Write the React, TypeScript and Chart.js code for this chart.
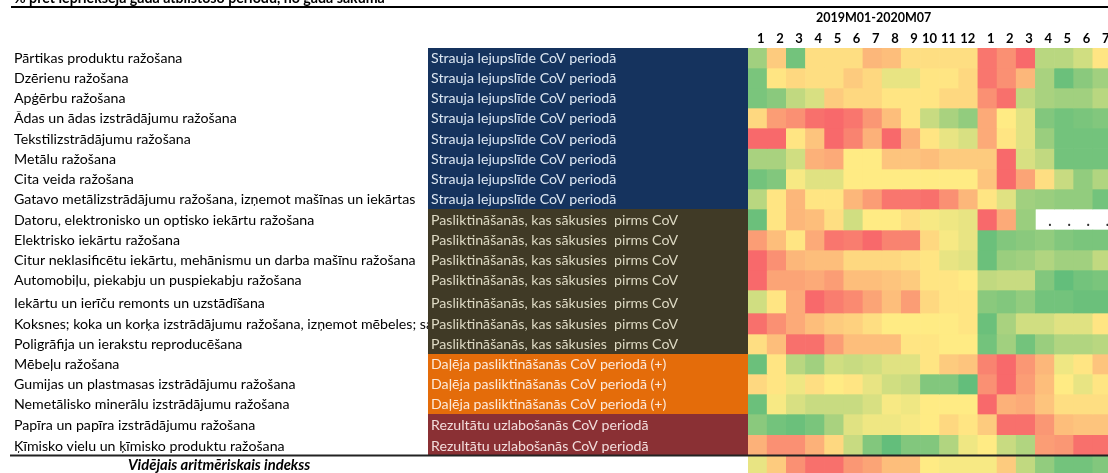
import React, { useEffect, useRef } from "react";
import { Chart, registerables } from "chart.js";

Chart.register(...registerables);

const title = "% pret iepriekšējā gada atbilstošo periodu, no gada sākuma";
const periodLabel = "2019M01-2020M07";
const averageLabel = "Vidējais aritmēriskais indekss";
const months = ["1", "2", "3", "4", "5", "6", "7", "8", "9", "10", "11", "12", "1 ", "2 ", "3 ", "4 ", "5 ", "6 ", "7 "];

const rowNames = [
  "Pārtikas produktu ražošana",
  "Dzērienu ražošana",
  "Apģērbu ražošana",
  "Ādas un ādas izstrādājumu ražošana",
  "Tekstilizstrādājumu ražošana",
  "Metālu ražošana",
  "Cita veida ražošana",
  "Gatavo metālizstrādājumu ražošana, izņemot mašīnas un iekārtas",
  "Datoru, elektronisko un optisko iekārtu ražošana",
  "Elektrisko iekārtu ražošana",
  "Citur neklasificētu iekārtu, mehānismu un darba mašīnu ražošana",
  "Automobiļu, piekabju un puspiekabju ražošana",
  "Iekārtu un ierīču remonts un uzstādīšana",
  "Koksnes; koka un korķa izstrādājumu ražošana, izņemot mēbeles; salmu",
  "Poligrāfija un ierakstu reproducēšana",
  "Mēbeļu ražošana",
  "Gumijas un plastmasas izstrādājumu ražošana",
  "Nemetālisko minerālu izstrādājumu ražošana",
  "Papīra un papīra izstrādājumu ražošana",
  "Ķīmisko vielu un ķīmisko produktu ražošana",
];

const groupNames = [
  "Strauja lejupslīde CoV periodā",
  "Pasliktināšanās, kas sākusies  pirms CoV",
  "Daļēja pasliktināšanās CoV periodā (+)",
  "Rezultātu uzlabošanās CoV periodā",
];
const rowGroups = [0, 0, 0, 0, 0, 0, 0, 0, 1, 1, 1, 1, 1, 1, 1, 2, 2, 2, 3, 3];

const food = [6, -2.5, 9, -1, -1, -1, -4, -3.5, -1, -1, -1, -1, -9, -7, -10, 4.5, 4.5, 3, -0.5];
const drinks = [8.5, -0.5, -1.5, -1, -1, -2.5, -1.5, 1.5, 1.5, -0.5, -0.5, -1.5, -9, -7, -4, 5.5, 9.5, 7.5, 6];
const clothing = [8.5, 7.5, 4, 2.5, -2.5, -1.5, -1.5, -0.5, -0.5, -0.5, -1.5, -1.5, -7, -9.5, 4, 5.5, 6, 6, 4.5];
const leather = [-1.5, -6, -7, -9.5, -10, -9, -6.5, -3.5, -0.5, 3.5, 5.5, 7, -5, 0, 2, 8, 9, 8.5, 8];
const textiles = [-10, -10, -0.5, -3, -10, -8, -4.5, -10, -4.5, -0.5, 1.5, 2.5, -5, -0.5, 2, 6.5, 9, 9, 9];
const metals = [5.5, 5.5, 3, -4.5, -5, 0, 0, -3, -3, -3.5, -2.5, -2.5, -2.5, -10, 2.5, 4, 9, 9, 9];
const otherMfg = [9, 8, 0.5, 2, 2, 0, 0, 0, 0, 0, 0, 0, -3, -10, -5.5, -1, 3.5, 7, 5];
const metalProducts = [4.5, -0.5, -4, -0.5, -0.5, -4, -6, -9, -9, -9.5, -7, -4, -0.5, 2, 6, 6.5, 7, 7, 9];
const computers = [9.5, -0.5, -4, -3.5, -1, 3, 0, 0, -1, 0.5, 1, 1.5, -10, -5, 6.5, null, null, null, null];
const electrical = [-6, -3.5, -0.5, -5, -9, -8.5, -10, -8, -8, -1.5, 0.5, 1.5, 9.5, 8, 7.5, 7, 8, 8.5, 8.5];
const machinery = [-10, -7, -4, -3.5, -3.5, -1.5, -1.5, -1.5, -1, -0.5, 1.5, 2, 9.5, 6.5, 6, 5, 6, 6, 4];
const vehicles = [-10, -5.5, -5.5, -5, -6, -3.5, -3.5, -3, -2.5, -0.5, -0.5, 0, 4, 3.5, 3.5, 8, 10, 9, 8.5];
const repair = [3, -0.5, -5, -10, -8.5, -7.5, -5.5, -3.5, -6, -1.5, -0.5, -0.5, 7.5, 8, 7, 9, 9, 9.5, 9.5];
const wood = [-9.5, -7, -5, -3.5, -2.5, -2, -1, 0, 0, 0, 0, -0.5, 9.5, 5.5, 3, 3, 2, 2, -0.5];
const printing = [-1, -3.5, -9.5, -9.5, -6, -3.5, -3.5, -3.5, -0.5, -0.5, 0, 0, 9, 6, 9, 6.5, 5, 5, 4.5];
const furniture = [9.5, -0.5, 4.5, 6, 3, 3.5, 3, 2, 2, -0.5, -2.5, -3, -8, -10, -6.5, -4, 1, -0.5, -3];
const rubber = [-1.5, -0.5, 1, -1, 0, -0.5, 1.5, 3, 3.5, 8, 8, 10, -7, -10, -6, -3.5, 0, 1.5, -0.5];
const minerals = [9.5, 0.5, 2.5, 3.5, 3.5, 3.5, 2.5, 0.5, 1, 0, 0, 0, -10, -4.5, -5, -3, -1, -1, -1];
const paper = [7.5, 9, 9.5, 8.5, 5.5, 2, 1, 1, 0.5, 0, -1.5, -0.5, -2.5, -9.5, -9.5, -6.5, -3.5, -3, -3];
const chemicals = [-4.5, -7, -7, -4.5, -1.5, 3.5, 8, 10, 8, 8, 5, 1, 0, 3.5, 5, -6, -6.5, -9.5, -9.5];
const average = [1.5, -2.5, -7, -9.5, -9.5, -6.5, -5.5, -3.5, -3.5, 0, 0.5, 0.5, 0.5, -2.5, 4, 7, 9, 9, 8];

const matrix = [
  food, drinks, clothing, leather, textiles, metals, otherMfg, metalProducts, computers, electrical,
  machinery, vehicles, repair, wood, printing, furniture, rubber, minerals, paper, chemicals, average,
];

// Layout: row boundaries on the y scale (row heights differ slightly in the source sheet).
const ROW_EDGES = [0, 20, 40, 60, 80, 100.5, 121, 141, 161, 182, 202, 222, 242, 265, 286, 306, 326, 346, 366, 386.7, 407.5, 425];
const FONT = "Lato, 'Open Sans', sans-serif";
const FONT_SIZE = 14.2;
const TEXT_RISE = 9.5;
const BAND_LEFT = 428;
const BAND_RIGHT = 748;
const BAND_COLORS = ["#15335e", "#403a26", "#e46c0a", "#8a3034"];
const BAND_TEXT = ["#dce6f1", "#ddd9c3", "#fde9d9", "#f2dcdb"];

const RED = [248, 105, 107];
const YELLOW = [255, 235, 132];
const GREEN = [99, 190, 123];

function cellColor(v: number | null): string {
  if (v === null) return "rgba(0,0,0,0)";
  const t = Math.min(1, Math.abs(v) / 10);
  const end = v < 0 ? RED : GREEN;
  const c = YELLOW.map((y, i) => Math.round(y + (end[i] - y) * t));
  return `rgb(${c[0]},${c[1]},${c[2]})`;
}

const sheetPlugin = {
  id: "sheet",
  beforeDatasetsDraw(chart: any) {
    const { ctx, scales } = chart;
    const y = scales.y;
    ctx.save();
    // Group bands cover any overflow of the row names.
    rowGroups.forEach((g, r) => {
      const top = Math.round(y.getPixelForValue(ROW_EDGES[r]));
      const bottom = Math.round(y.getPixelForValue(ROW_EDGES[r + 1]));
      ctx.fillStyle = BAND_COLORS[g];
      ctx.fillRect(BAND_LEFT, top, BAND_RIGHT - BAND_LEFT, bottom - top);
    });
    ctx.font = `${FONT_SIZE}px ${FONT}`;
    ctx.textAlign = "left";
    ctx.textBaseline = "middle";
    rowGroups.forEach((g, r) => {
      ctx.fillStyle = BAND_TEXT[g];
      ctx.fillText(groupNames[g], BAND_LEFT + 3, y.getPixelForValue(ROW_EDGES[r + 1] - TEXT_RISE));
    });
    ctx.restore();
  },
  afterDatasetsDraw(chart: any) {
    const { ctx, scales, width } = chart;
    const { x, y } = scales;
    ctx.save();
    ctx.fillStyle = "#000";
    ctx.textBaseline = "alphabetic";
    ctx.textAlign = "left";
    ctx.font = `bold ${FONT_SIZE}px ${FONT}`;
    ctx.fillText(title, 14, 3);
    ctx.textBaseline = "middle";
    ctx.font = `bold 12.5px ${FONT}`;
    ctx.fillText(periodLabel, 816, 18);
    ctx.font = `italic bold 14.8px ${FONT}`;
    ctx.fillText(averageLabel, 128, 465);

    ctx.fillStyle = "#000";
    ctx.fillRect(11, 6, width - 11, 2);
    ctx.fillStyle = "#222";
    ctx.fillRect(10, y.getPixelForValue(ROW_EDGES[20]) - 1, width - 10, 2);

    // Missing values are shown as dots.
    ctx.fillStyle = "#333";
    ctx.font = `bold ${FONT_SIZE}px ${FONT}`;
    ctx.textAlign = "center";
    matrix.forEach((row, r) => {
      row.forEach((v, c) => {
        if (v === null) {
          ctx.fillText(".", x.getPixelForValue(c) + 5, y.getPixelForValue(ROW_EDGES[r + 1] - 9));
        }
      });
    });
    ctx.restore();
  },
};

export default function App() {
  const ref = useRef<HTMLCanvasElement>(null);
  useEffect(() => {
    const chart = new Chart(ref.current!, {
      type: "bar",
      data: {
        labels: months,
        datasets: matrix.map((row, r) => ({
          label: r < rowNames.length ? rowNames[r] : averageLabel,
          data: row.map((v) => (v === null ? null : [ROW_EDGES[r], ROW_EDGES[r + 1]])) as any,
          backgroundColor: row.map(cellColor),
          borderWidth: 0,
          grouped: false,
          barPercentage: 1,
          categoryPercentage: 1,
        })),
      },
      options: {
        animation: false,
        responsive: false,
        layout: { padding: { left: 14, top: 0, right: 0, bottom: 0 } },
        plugins: { legend: { display: false }, tooltip: { enabled: false }, title: { display: false } },
        scales: {
          x: {
            type: "category",
            position: "top",
            offset: true,
            grid: { display: false, drawTicks: false },
            border: { display: false },
            ticks: {
              autoSkip: false,
              maxRotation: 0,
              align: "end",
              labelOffset: 7,
              padding: 1,
              color: "#000",
              font: { family: FONT, size: 13, weight: "bold" },
              callback: (_v: any, i: number) => months[i].trim(),
            },
            afterFit: (s: any) => {
              s.height = 48;
              s.paddingLeft = 0;
              s.paddingRight = 0;
            },
          },
          y: {
            type: "linear",
            reverse: true,
            min: ROW_EDGES[0],
            max: ROW_EDGES[ROW_EDGES.length - 1],
            grid: { display: false, drawTicks: false },
            border: { display: false },
            afterBuildTicks: (s: any) => {
              s.ticks = rowNames.map((_n, r) => ({ value: ROW_EDGES[r + 1] - TEXT_RISE }));
            },
            ticks: {
              autoSkip: false,
              crossAlign: "far",
              padding: 0,
              color: "#000",
              font: { family: FONT, size: FONT_SIZE },
              callback: (_v: any, i: number) => rowNames[i],
            },
            afterFit: (s: any) => {
              s.width = BAND_RIGHT - 14;
              s.paddingTop = 0;
              s.paddingBottom = 0;
            },
          },
        },
      },
      plugins: [sheetPlugin],
    } as any);
    return () => chart.destroy();
  }, []);
  return (
    <div style={{ position: "fixed", left: 0, top: 0, width: 1108, height: 473, overflow: "hidden", background: "#fff" }}>
      <canvas ref={ref} width={1112} height={473} style={{ display: "block" }} />
    </div>
  );
}
